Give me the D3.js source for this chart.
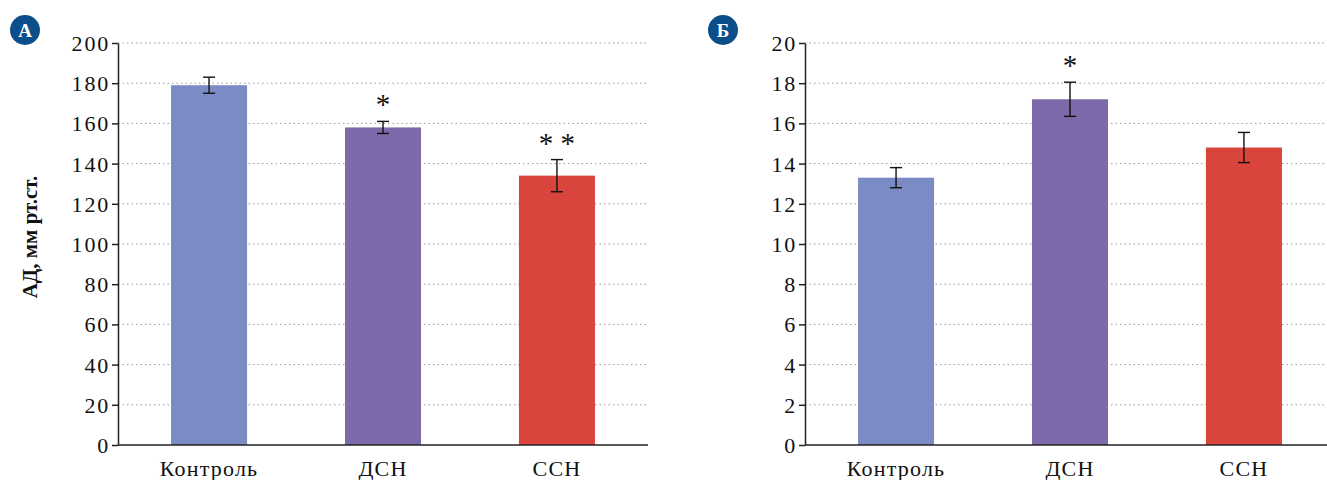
<!DOCTYPE html>
<html>
<meta charset="utf-8">
<head>
<style>
    body { margin: 0; background: white; }
    svg text { font-family: "Liberation Serif", "DejaVu Serif", serif !important; }
    .grid line { stroke: #9a9a9a; stroke-width: 1; stroke-dasharray: 1.5, 3; }
    .axis path, .axis line { stroke: #222; stroke-width: 1.5; }
    .tick text { font-size: 22px; fill: #111; letter-spacing: 1.8px; }
    .cat { font-size: 22px; fill: #111; text-anchor: middle; letter-spacing: 1.2px; }
    .err { stroke: #111; stroke-width: 1.4; }
    .mark { font-size: 29px; fill: #111; text-anchor: middle; }
    .badge text { fill: white; font-size: 19px; font-weight: bold; text-anchor: middle; }
    .ylabel { font-size: 21px; font-weight: bold; text-anchor: middle; fill: #111; }
</style>
</head>
<body>
<div id="chart"></div>
<script src="https://cdn.jsdelivr.net/npm/d3@7"></script>
<script>
const width = 1327;
const height = 480;
const serif = '"Liberation Serif", "DejaVu Serif", serif';

const categories = ["Контроль", "ДСН", "ССН"];
const colours = ["#7b8bc4", "#7e69aa", "#d9453d"];

// panel A: blood pressure
const pressure_mean = [179, 158, 134];
const pressure_err = [4, 3, 8];
const pressure_marks = ["", "*", "* *"];
const pressure_ticks = [0, 20, 40, 60, 80, 100, 120, 140, 160, 180, 200];

// panel B
const b_mean = [13.3, 17.2, 14.8];
const b_err = [0.5, 0.85, 0.75];
const b_marks = ["", "*", ""];
const b_ticks = [0, 2, 4, 6, 8, 10, 12, 14, 16, 18, 20];

const svg = d3.select("#chart")
    .append("svg")
    .attr("width", width)
    .attr("height", height);

draw_panel({
    left: 118, top: 43, bottom: 445, w: 530,
    letter: "А", badge: [25, 30],
    mean: pressure_mean, err: pressure_err, marks: pressure_marks,
    ticks: pressure_ticks, max: 200,
    ylabel: "АД, мм рт.ст."
});

draw_panel({
    left: 805, top: 43, bottom: 445, w: 530,
    letter: "Б", badge: [723, 30],
    mean: b_mean, err: b_err, marks: b_marks,
    ticks: b_ticks, max: 20,
    ylabel: null
});

svg.selectAll("text").style("font-family", serif);

function draw_panel(p) {
    const g = svg.append("g");

    const x = d3.scaleBand()
        .domain(categories)
        .range([p.left, p.left + p.w])
        .paddingInner(0.563)
        .paddingOuter(0.305);

    const y = d3.scaleLinear()
        .domain([0, p.max])
        .range([p.bottom, p.top]);

    // dotted grid
    g.append("g")
        .attr("class", "grid")
        .selectAll("line")
        .data(p.ticks.filter(t => t > 0))
        .enter()
        .append("line")
        .attr("x1", p.left)
        .attr("x2", p.left + p.w)
        .attr("y1", d => y(d))
        .attr("y2", d => y(d));

    // bars
    g.selectAll(".bar")
        .data(categories)
        .enter()
        .append("rect")
        .attr("class", "bar")
        .attr("x", d => x(d))
        .attr("width", x.bandwidth())
        .attr("y", (d, i) => y(p.mean[i]))
        .attr("height", (d, i) => y(0) - y(p.mean[i]))
        .attr("fill", (d, i) => colours[i]);

    // error bars
    const cap = 6;
    const eb = g.selectAll(".errbar")
        .data(categories)
        .enter()
        .append("g")
        .attr("class", "errbar");
    eb.append("line")
        .attr("class", "err")
        .attr("x1", d => x(d) + x.bandwidth() / 2)
        .attr("x2", d => x(d) + x.bandwidth() / 2)
        .attr("y1", (d, i) => y(p.mean[i] - p.err[i]))
        .attr("y2", (d, i) => y(p.mean[i] + p.err[i]));
    [-1, 1].forEach(s => {
        eb.append("line")
            .attr("class", "err")
            .attr("x1", d => x(d) + x.bandwidth() / 2 - cap)
            .attr("x2", d => x(d) + x.bandwidth() / 2 + cap)
            .attr("y1", (d, i) => y(p.mean[i] + s * p.err[i]))
            .attr("y2", (d, i) => y(p.mean[i] + s * p.err[i]));
    });

    // significance marks
    g.selectAll(".mark")
        .data(categories)
        .enter()
        .append("text")
        .attr("class", "mark")
        .attr("x", d => x(d) + x.bandwidth() / 2)
        .attr("y", (d, i) => y(p.mean[i] + p.err[i]) - 7)
        .attr("xml:space", "preserve")
        .text((d, i) => p.marks[i]);

    // y axis
    g.append("g")
        .attr("class", "axis")
        .attr("transform", "translate(" + p.left + ",0)")
        .call(d3.axisLeft(y).tickValues(p.ticks).tickSize(6).tickSizeOuter(0).tickPadding(2))
        .call(a => a.attr("font-family", null).attr("font-size", null))
        .call(a => a.selectAll(".tick text").attr("dy", "0.34em"));

    // x axis
    g.append("line")
        .attr("x1", p.left)
        .attr("x2", p.left + p.w)
        .attr("y1", y(0))
        .attr("y2", y(0))
        .attr("stroke", "#222")
        .attr("stroke-width", 1.5);

    g.selectAll(".cat")
        .data(categories)
        .enter()
        .append("text")
        .attr("class", "cat")
        .attr("x", d => x(d) + x.bandwidth() / 2)
        .attr("y", p.bottom + 31)
        .text(d => d);

    // panel badge
    const badge = g.append("g")
        .attr("class", "badge")
        .attr("transform", "translate(" + p.badge + ")");
    badge.append("circle")
        .attr("r", 15)
        .attr("fill", "#0c4e8a");
    badge.append("text")
        .attr("y", 7)
        .text(p.letter);

    if (p.ylabel) {
        g.append("text")
            .attr("class", "ylabel")
            .attr("transform", "translate(37," + 237 + ") rotate(-90)")
            .text(p.ylabel);
    }
}
</script>
</body>
</html>
